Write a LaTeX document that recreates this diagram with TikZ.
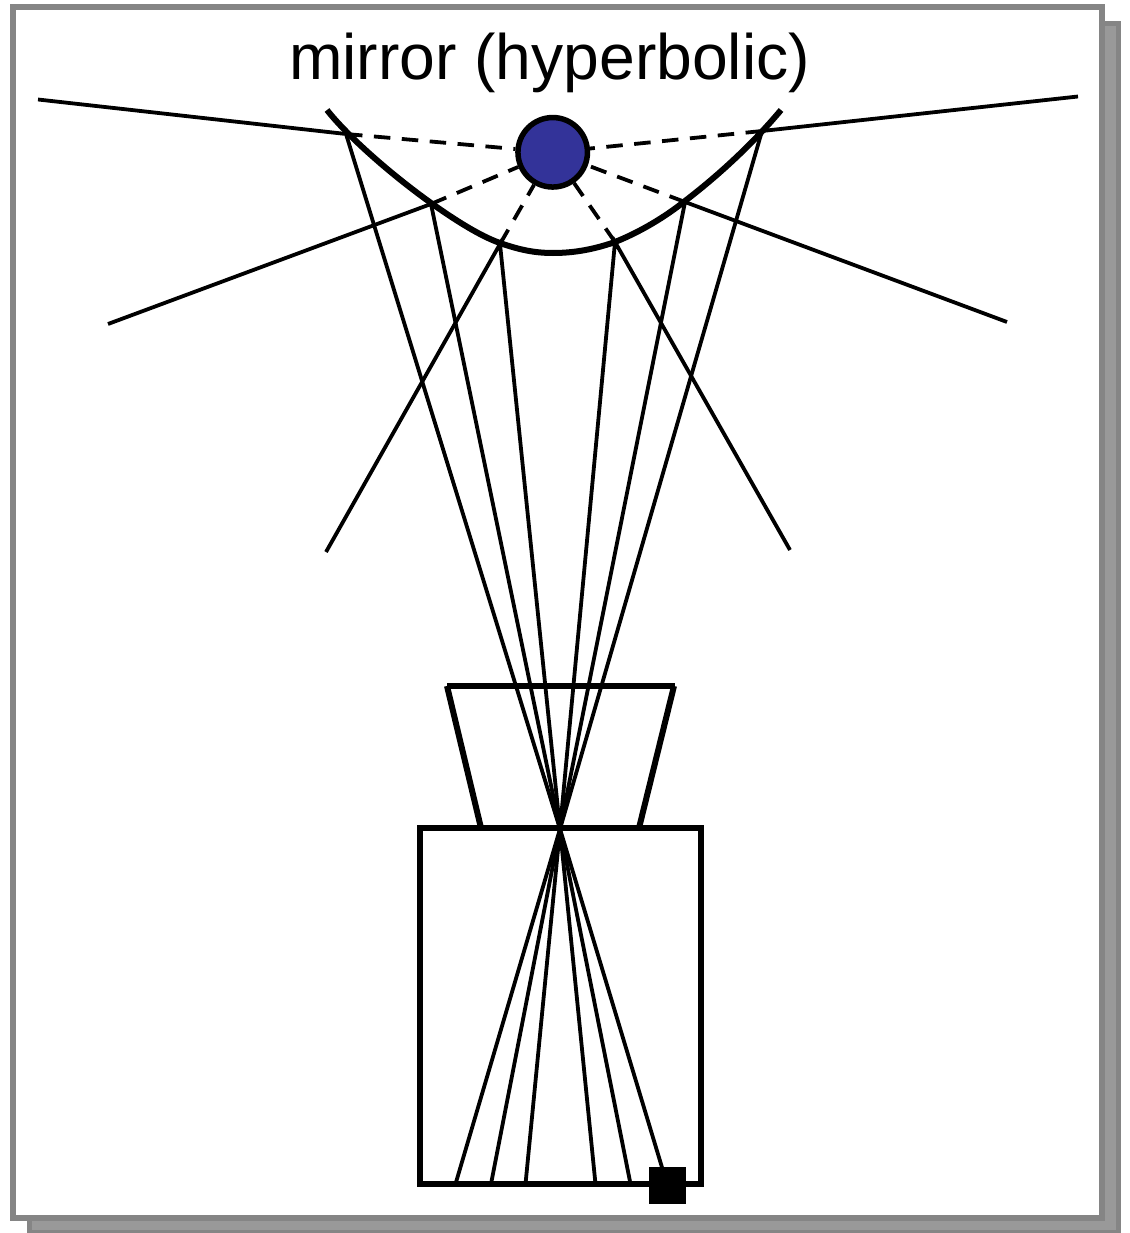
\documentclass[tikz,border=0pt]{standalone}
\usepackage{fontspec}
\setmainfont{Liberation Sans}
\definecolor{framegray}{HTML}{858585}
\definecolor{shadowgray}{HTML}{999999}
\definecolor{focusblue}{HTML}{333399}
\tikzset{
  ray/.style={line width=3.8pt},
  hidden ray/.style={line width=3.8pt,dash pattern=on 16.5pt off 11.5pt},
  camera/.style={line width=6pt},
}
\begin{document}
\begin{tikzpicture}[x=1pt,y=-1pt]
\useasboundingbox (0,0) rectangle (1129,1233);
\draw[framegray,fill=shadowgray,line width=5.5pt] (29.5,23.5) rectangle (1118.5,1233);
\draw[framegray,fill=white,line width=6pt] (13.3,7.5) rectangle (1102,1217.7);
\node (title) at (549.5,63) {\fontsize{64.2}{70}\selectfont mirror (hyperbolic)};
% points on the mirror
\coordinate (m1) at (346,134);
\coordinate (m2) at (431,204);
\coordinate (m3) at (500,244);
\coordinate (m4) at (615,242);
\coordinate (m5) at (685,202);
\coordinate (m6) at (762,131);
% lens centre
\coordinate (pin) at (560,829);
% free ends outside
\coordinate (o1) at (38,99.5);
\coordinate (o2) at (108,324);
\coordinate (o3) at (326,552);
\coordinate (o4) at (790,550);
\coordinate (o5) at (1007,322);
\coordinate (o6) at (1078,96.5);
% ends on the image plane
\coordinate (s1) at (667,1184);
\coordinate (s2) at (630.5,1184);
\coordinate (s3) at (595.5,1184);
\coordinate (s4) at (525.5,1184);
\coordinate (s5) at (491,1184);
\coordinate (s6) at (455.5,1184);
\node[circle,draw,fill=focusblue,line width=5.5pt,minimum size=69.5pt,inner sep=0pt] (focus) at (552.7,152.3) {};
\foreach \i in {1,...,6}{
  \draw[hidden ray] (m\i) -- (focus);
  \draw[ray] (o\i) -- (m\i) -- (pin) -- (s\i);
}
\draw[line width=6pt] (327,110) .. controls (345,133) and (385,170) .. (431,203) .. controls (455,220) and (480,236) .. (500,243) .. controls (520,250) and (535,253) .. (553,253) .. controls (575,253) and (595,249) .. (615,242) .. controls (640,232) and (665,217) .. (685,201) .. controls (715,178) and (750,147) .. (781,110);
\draw[camera] (447,686) -- (675,686);
\draw[camera] (447,686) -- (481,828);
\draw[camera] (674,686) -- (639,828);
\draw[camera] (420,828) rectangle (701,1184);
\node[fill=black,minimum size=37pt,inner sep=0pt] (sensor) at (667.3,1185) {};
\end{tikzpicture}
\end{document}
